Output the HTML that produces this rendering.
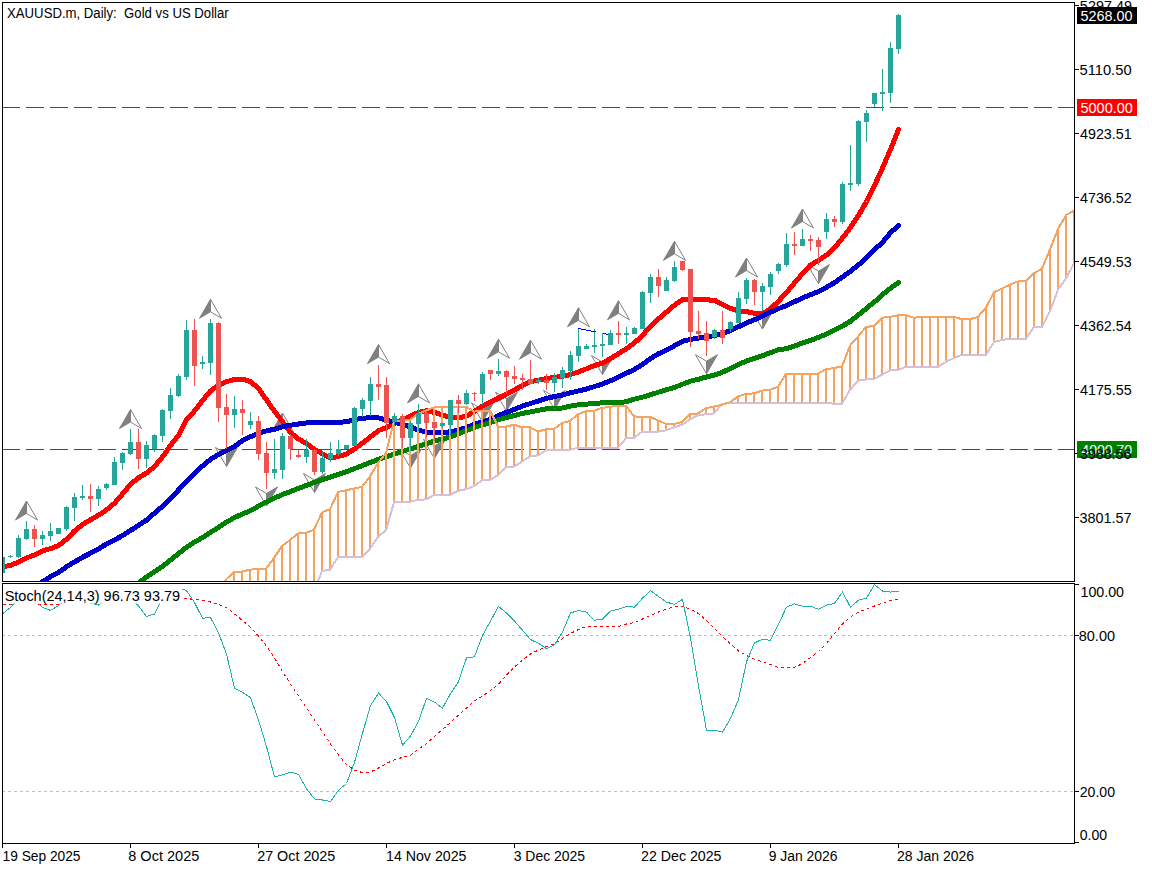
<!DOCTYPE html>
<html><head><meta charset="utf-8"><title>XAUUSD.m, Daily</title>
<style>html,body{margin:0;padding:0;background:#fff;width:1152px;height:870px;overflow:hidden}</style>
</head><body>
<svg width="1152" height="870" viewBox="0 0 1152 870" style="display:block">
<rect x="0" y="0" width="1152" height="870" fill="#ffffff"/>
<defs><clipPath id="cm"><rect x="3" y="3" width="1071" height="578"/></clipPath><clipPath id="cs"><rect x="3" y="584" width="1071" height="259"/></clipPath></defs>
<g clip-path="url(#cm)">
<line x1="2" y1="107.5" x2="1074" y2="107.5" stroke="#ff0000" stroke-width="1" stroke-dasharray="18,6"/>
<line x1="2" y1="449.5" x2="1074" y2="449.5" stroke="#008000" stroke-width="1" stroke-dasharray="18,6"/>
<g>
<polygon points="26.5,501 15.5,520 26.5,513.5" fill="#808080" stroke="#808080" stroke-width="1" stroke-linejoin="round"/><polyline points="26.5,513.5 26.5,501 37.5,520 26.5,513.5" fill="none" stroke="#808080" stroke-width="1"/>
<polygon points="130.5,409.5 119.5,428.5 130.5,422.0" fill="#808080" stroke="#808080" stroke-width="1" stroke-linejoin="round"/><polyline points="130.5,422.0 130.5,409.5 141.5,428.5 130.5,422.0" fill="none" stroke="#808080" stroke-width="1"/>
<polygon points="210.5,299.3 199.5,318.3 210.5,311.8" fill="#808080" stroke="#808080" stroke-width="1" stroke-linejoin="round"/><polyline points="210.5,311.8 210.5,299.3 221.5,318.3 210.5,311.8" fill="none" stroke="#808080" stroke-width="1"/>
<polygon points="282.5,413 271.5,432 282.5,425.5" fill="#808080" stroke="#808080" stroke-width="1" stroke-linejoin="round"/><polyline points="282.5,425.5 282.5,413 293.5,432 282.5,425.5" fill="none" stroke="#808080" stroke-width="1"/>
<polygon points="378.5,344.6 367.5,363.6 378.5,357.1" fill="#808080" stroke="#808080" stroke-width="1" stroke-linejoin="round"/><polyline points="378.5,357.1 378.5,344.6 389.5,363.6 378.5,357.1" fill="none" stroke="#808080" stroke-width="1"/>
<polygon points="418.5,383.9 407.5,402.9 418.5,396.4" fill="#808080" stroke="#808080" stroke-width="1" stroke-linejoin="round"/><polyline points="418.5,396.4 418.5,383.9 429.5,402.9 418.5,396.4" fill="none" stroke="#808080" stroke-width="1"/>
<polygon points="498.5,339.3 487.5,358.3 498.5,351.8" fill="#808080" stroke="#808080" stroke-width="1" stroke-linejoin="round"/><polyline points="498.5,351.8 498.5,339.3 509.5,358.3 498.5,351.8" fill="none" stroke="#808080" stroke-width="1"/>
<polygon points="530.5,340.2 519.5,359.2 530.5,352.7" fill="#808080" stroke="#808080" stroke-width="1" stroke-linejoin="round"/><polyline points="530.5,352.7 530.5,340.2 541.5,359.2 530.5,352.7" fill="none" stroke="#808080" stroke-width="1"/>
<polygon points="578.5,307.8 567.5,326.8 578.5,320.3" fill="#808080" stroke="#808080" stroke-width="1" stroke-linejoin="round"/><polyline points="578.5,320.3 578.5,307.8 589.5,326.8 578.5,320.3" fill="none" stroke="#808080" stroke-width="1"/>
<polygon points="618.5,300.8 607.5,319.8 618.5,313.3" fill="#808080" stroke="#808080" stroke-width="1" stroke-linejoin="round"/><polyline points="618.5,313.3 618.5,300.8 629.5,319.8 618.5,313.3" fill="none" stroke="#808080" stroke-width="1"/>
<polygon points="674.5,241.3 663.5,260.3 674.5,253.8" fill="#808080" stroke="#808080" stroke-width="1" stroke-linejoin="round"/><polyline points="674.5,253.8 674.5,241.3 685.5,260.3 674.5,253.8" fill="none" stroke="#808080" stroke-width="1"/>
<polygon points="746.5,258 735.5,277 746.5,270.5" fill="#808080" stroke="#808080" stroke-width="1" stroke-linejoin="round"/><polyline points="746.5,270.5 746.5,258 757.5,277 746.5,270.5" fill="none" stroke="#808080" stroke-width="1"/>
<polygon points="802.5,209 791.5,228 802.5,221.5" fill="#808080" stroke="#808080" stroke-width="1" stroke-linejoin="round"/><polyline points="802.5,221.5 802.5,209 813.5,228 802.5,221.5" fill="none" stroke="#808080" stroke-width="1"/>
<polygon points="226.5,466.5 237.5,447.5 226.5,454.0" fill="#808080" stroke="#808080" stroke-width="1" stroke-linejoin="round"/><polyline points="226.5,454.0 226.5,466.5 215.5,447.5 226.5,454.0" fill="none" stroke="#808080" stroke-width="1"/>
<polygon points="266.5,506 277.5,487 266.5,493.5" fill="#808080" stroke="#808080" stroke-width="1" stroke-linejoin="round"/><polyline points="266.5,493.5 266.5,506 255.5,487 266.5,493.5" fill="none" stroke="#808080" stroke-width="1"/>
<polygon points="314.5,492.5 325.5,473.5 314.5,480.0" fill="#808080" stroke="#808080" stroke-width="1" stroke-linejoin="round"/><polyline points="314.5,480.0 314.5,492.5 303.5,473.5 314.5,480.0" fill="none" stroke="#808080" stroke-width="1"/>
<polygon points="410.5,468 421.5,449 410.5,455.5" fill="#808080" stroke="#808080" stroke-width="1" stroke-linejoin="round"/><polyline points="410.5,455.5 410.5,468 399.5,449 410.5,455.5" fill="none" stroke="#808080" stroke-width="1"/>
<polygon points="434.5,458.5 445.5,439.5 434.5,446.0" fill="#808080" stroke="#808080" stroke-width="1" stroke-linejoin="round"/><polyline points="434.5,446.0 434.5,458.5 423.5,439.5 434.5,446.0" fill="none" stroke="#808080" stroke-width="1"/>
<polygon points="482.5,422 493.5,403 482.5,409.5" fill="#808080" stroke="#808080" stroke-width="1" stroke-linejoin="round"/><polyline points="482.5,409.5 482.5,422 471.5,403 482.5,409.5" fill="none" stroke="#808080" stroke-width="1"/>
<polygon points="506.5,411.2 517.5,392.2 506.5,398.7" fill="#808080" stroke="#808080" stroke-width="1" stroke-linejoin="round"/><polyline points="506.5,398.7 506.5,411.2 495.5,392.2 506.5,398.7" fill="none" stroke="#808080" stroke-width="1"/>
<polygon points="554.5,409.3 565.5,390.3 554.5,396.8" fill="#808080" stroke="#808080" stroke-width="1" stroke-linejoin="round"/><polyline points="554.5,396.8 554.5,409.3 543.5,390.3 554.5,396.8" fill="none" stroke="#808080" stroke-width="1"/>
<polygon points="602.5,374.6 613.5,355.6 602.5,362.1" fill="#808080" stroke="#808080" stroke-width="1" stroke-linejoin="round"/><polyline points="602.5,362.1 602.5,374.6 591.5,355.6 602.5,362.1" fill="none" stroke="#808080" stroke-width="1"/>
<polygon points="706.5,373.7 717.5,354.7 706.5,361.2" fill="#808080" stroke="#808080" stroke-width="1" stroke-linejoin="round"/><polyline points="706.5,361.2 706.5,373.7 695.5,354.7 706.5,361.2" fill="none" stroke="#808080" stroke-width="1"/>
<polygon points="762.5,329 773.5,310 762.5,316.5" fill="#808080" stroke="#808080" stroke-width="1" stroke-linejoin="round"/><polyline points="762.5,316.5 762.5,329 751.5,310 762.5,316.5" fill="none" stroke="#808080" stroke-width="1"/>
<polygon points="818.5,283.6 829.5,264.6 818.5,271.1" fill="#808080" stroke="#808080" stroke-width="1" stroke-linejoin="round"/><polyline points="818.5,271.1 818.5,283.6 807.5,264.6 818.5,271.1" fill="none" stroke="#808080" stroke-width="1"/>
</g>
<polyline points="2.5,566.7 10.5,565.5 18.5,562.0 26.5,557.9 34.5,555.0 42.5,550.9 50.5,548.6 58.5,545.6 66.5,539.2 74.5,531.0 82.5,524.5 90.5,519.8 98.5,515.2 106.5,509.9 114.5,503.2 122.5,493.9 130.5,484.3 138.5,477.8 146.5,473.0 154.5,466.6 162.5,456.9 170.5,445.6 178.5,435.2 186.5,419.9 194.5,411.0 202.5,400.6 210.5,390.9 218.5,385.3 226.5,381.7 234.5,379.4 242.5,379.2 250.5,381.5 258.5,388.4 266.5,399.9 274.5,411.4 282.5,421.7 290.5,432.6 298.5,439.0 306.5,443.6 314.5,449.3 322.5,453.9 330.5,458.0 338.5,456.5 346.5,454.1 354.5,448.9 362.5,443.1 370.5,436.9 378.5,430.6 386.5,427.5 394.5,423.3 402.5,419.7 410.5,416.0 418.5,412.4 426.5,410.8 434.5,412.4 442.5,415.0 450.5,417.6 458.5,418.1 466.5,416.0 474.5,411.4 482.5,406.1 490.5,402.0 498.5,398.3 506.5,394.2 514.5,390.0 522.5,385.3 530.5,381.7 538.5,380.1 546.5,378.5 554.5,377.3 562.5,376.4 570.5,374.5 578.5,371.9 586.5,368.8 594.5,365.6 602.5,363.1 610.5,358.7 618.5,353.6 626.5,348.6 634.5,342.9 642.5,335.3 650.5,326.4 658.5,318.8 666.5,312.0 674.5,305.2 682.5,299.5 690.5,299.5 698.5,299.2 706.5,299.9 714.5,300.2 722.5,304.6 730.5,308.4 738.5,310.9 746.5,311.5 754.5,313.4 762.5,314.0 770.5,308.8 778.5,301.2 786.5,292.6 794.5,283.0 802.5,273.5 810.5,265.0 818.5,260.5 826.5,255.0 834.5,248.0 842.5,238.0 850.5,227.5 858.5,215.5 866.5,201.5 874.5,185.5 882.5,168.0 890.5,149.5 898.5,129.5" fill="none" stroke="#ff0000" stroke-width="5" stroke-linecap="round" stroke-linejoin="round" shape-rendering="crispEdges"/>
<polyline points="26.5,594.0 34.5,588.0 42.5,581.8 50.5,576.6 58.5,572.6 66.5,566.7 74.5,562.0 82.5,557.3 90.5,553.2 98.5,549.1 106.5,543.9 114.5,540.0 122.5,535.6 130.5,530.5 138.5,525.3 146.5,520.2 154.5,513.1 162.5,506.4 170.5,498.8 178.5,490.0 186.5,481.5 194.5,473.6 202.5,466.0 210.5,459.3 218.5,454.5 226.5,450.5 234.5,446.4 242.5,440.7 250.5,436.7 258.5,433.2 266.5,430.9 274.5,429.2 282.5,426.9 290.5,425.2 298.5,424.0 306.5,422.9 314.5,422.3 322.5,422.3 330.5,422.3 338.5,422.3 346.5,421.8 354.5,419.7 362.5,418.1 370.5,417.9 378.5,417.9 386.5,420.2 394.5,422.3 402.5,424.4 410.5,427.0 418.5,430.1 426.5,432.2 434.5,432.7 442.5,433.0 450.5,431.7 458.5,430.1 466.5,427.5 474.5,424.4 482.5,421.8 490.5,419.2 498.5,415.5 506.5,412.4 514.5,409.3 522.5,406.1 530.5,403.5 538.5,400.9 546.5,398.3 554.5,396.5 562.5,395.0 570.5,392.8 578.5,390.9 586.5,389.0 594.5,386.5 602.5,384.0 610.5,380.8 618.5,377.0 626.5,373.2 634.5,369.4 642.5,364.4 650.5,358.5 658.5,353.8 666.5,350.2 674.5,345.7 682.5,341.3 690.5,339.4 698.5,338.1 706.5,336.8 714.5,335.6 722.5,333.7 730.5,330.5 738.5,326.7 746.5,322.9 754.5,319.8 762.5,316.0 770.5,312.2 778.5,308.6 786.5,305.5 794.5,301.7 802.5,297.9 810.5,294.7 818.5,291.4 826.5,287.4 834.5,282.6 842.5,277.0 850.5,271.3 858.5,264.9 866.5,257.6 874.5,249.6 882.5,242.4 890.5,232.7 898.5,225.5" fill="none" stroke="#0000cd" stroke-width="5" stroke-linecap="round" stroke-linejoin="round" shape-rendering="crispEdges"/>
<polyline points="130.5,590.0 141.4,580.7 146.5,577.0 154.5,571.5 162.5,566.5 170.5,560.1 178.5,553.7 186.5,547.2 194.5,542.1 202.5,537.6 210.5,532.4 218.5,527.3 226.5,522.1 234.5,517.6 242.5,514.0 250.5,510.6 258.5,506.2 266.5,501.9 274.5,498.0 282.5,494.5 290.5,491.5 298.5,488.4 306.5,485.4 314.5,482.3 322.5,479.7 330.5,477.1 338.5,474.4 346.5,471.8 354.5,468.6 362.5,465.5 370.5,462.4 378.5,459.3 386.5,456.7 394.5,453.8 402.5,451.5 410.5,448.9 418.5,446.3 426.5,443.6 434.5,441.0 442.5,439.0 450.5,436.9 458.5,433.8 466.5,430.6 474.5,427.5 482.5,424.9 490.5,422.3 498.5,419.7 506.5,417.6 514.5,415.5 522.5,413.4 530.5,411.9 538.5,410.3 546.5,408.8 554.5,408.5 562.5,408.0 570.5,406.1 578.5,404.8 586.5,404.2 594.5,403.3 602.5,402.9 610.5,402.9 618.5,402.7 626.5,401.7 634.5,399.1 642.5,397.2 650.5,394.7 658.5,392.2 666.5,389.7 674.5,387.4 682.5,384.2 690.5,381.1 698.5,379.2 706.5,377.0 714.5,375.0 722.5,372.2 730.5,368.4 738.5,364.6 746.5,360.9 754.5,358.3 762.5,355.8 770.5,352.6 778.5,349.8 786.5,348.6 794.5,346.2 802.5,342.9 810.5,340.5 818.5,337.3 826.5,334.1 834.5,330.1 842.5,326.0 850.5,321.2 858.5,314.8 866.5,308.3 874.5,301.9 882.5,294.7 890.5,288.2 898.5,282.6" fill="none" stroke="#008000" stroke-width="5" stroke-linecap="round" stroke-linejoin="round" shape-rendering="crispEdges"/>
<rect x="217" y="592.0" width="2" height="8.0" fill="#f4a460"/>
<rect x="225" y="579.5" width="2" height="20.5" fill="#f4a460"/>
<rect x="233" y="572.0" width="2" height="28.0" fill="#f4a460"/>
<rect x="241" y="571.5" width="2" height="28.5" fill="#f4a460"/>
<rect x="249" y="569.7" width="2" height="30.3" fill="#f4a460"/>
<rect x="257" y="568.8" width="2" height="31.2" fill="#f4a460"/>
<rect x="265" y="568.8" width="2" height="31.2" fill="#f4a460"/>
<rect x="273" y="558.0" width="2" height="42.0" fill="#f4a460"/>
<rect x="281" y="546.0" width="2" height="54.0" fill="#f4a460"/>
<rect x="289" y="540.0" width="2" height="60.0" fill="#f4a460"/>
<rect x="297" y="533.5" width="2" height="66.5" fill="#f4a460"/>
<rect x="305" y="533.0" width="2" height="67.0" fill="#f4a460"/>
<rect x="313" y="529.6" width="2" height="62.4" fill="#f4a460"/>
<rect x="321" y="512.5" width="2" height="58.5" fill="#f4a460"/>
<rect x="329" y="509.0" width="2" height="60.7" fill="#f4a460"/>
<rect x="337" y="492.0" width="2" height="65.2" fill="#f4a460"/>
<rect x="345" y="490.3" width="2" height="66.9" fill="#f4a460"/>
<rect x="353" y="488.5" width="2" height="68.7" fill="#f4a460"/>
<rect x="361" y="486.8" width="2" height="70.4" fill="#f4a460"/>
<rect x="369" y="476.3" width="2" height="72.5" fill="#f4a460"/>
<rect x="377" y="463.0" width="2" height="73.6" fill="#f4a460"/>
<rect x="385" y="453.0" width="2" height="77.4" fill="#f4a460"/>
<rect x="393" y="421.0" width="2" height="81.2" fill="#f4a460"/>
<rect x="401" y="420.3" width="2" height="81.4" fill="#f4a460"/>
<rect x="409" y="419.5" width="2" height="82.2" fill="#f4a460"/>
<rect x="417" y="414.0" width="2" height="85.8" fill="#f4a460"/>
<rect x="425" y="410.5" width="2" height="88.9" fill="#f4a460"/>
<rect x="433" y="407.5" width="2" height="87.5" fill="#f4a460"/>
<rect x="441" y="406.7" width="2" height="88.0" fill="#f4a460"/>
<rect x="449" y="406.7" width="2" height="88.0" fill="#f4a460"/>
<rect x="457" y="406.7" width="2" height="84.1" fill="#f4a460"/>
<rect x="465" y="406.7" width="2" height="82.5" fill="#f4a460"/>
<rect x="473" y="411.6" width="2" height="74.5" fill="#f4a460"/>
<rect x="481" y="410.7" width="2" height="69.6" fill="#f4a460"/>
<rect x="489" y="410.7" width="2" height="69.1" fill="#f4a460"/>
<rect x="497" y="426.5" width="2" height="48.7" fill="#f4a460"/>
<rect x="505" y="426.5" width="2" height="40.8" fill="#f4a460"/>
<rect x="513" y="424.7" width="2" height="41.9" fill="#f4a460"/>
<rect x="521" y="427.3" width="2" height="34.3" fill="#f4a460"/>
<rect x="529" y="427.3" width="2" height="29.1" fill="#f4a460"/>
<rect x="537" y="431.7" width="2" height="23.6" fill="#f4a460"/>
<rect x="545" y="429.1" width="2" height="21.1" fill="#f4a460"/>
<rect x="553" y="429.1" width="2" height="20.6" fill="#f4a460"/>
<rect x="561" y="423.0" width="2" height="26.9" fill="#f4a460"/>
<rect x="569" y="420.9" width="2" height="29.0" fill="#f4a460"/>
<rect x="577" y="414.3" width="2" height="33.3" fill="#f4a460"/>
<rect x="585" y="411.2" width="2" height="36.4" fill="#f4a460"/>
<rect x="593" y="410.8" width="2" height="36.8" fill="#f4a460"/>
<rect x="601" y="407.9" width="2" height="39.7" fill="#f4a460"/>
<rect x="609" y="406.8" width="2" height="40.8" fill="#f4a460"/>
<rect x="617" y="405.6" width="2" height="42.0" fill="#f4a460"/>
<rect x="625" y="405.6" width="2" height="32.7" fill="#f4a460"/>
<rect x="633" y="416.4" width="2" height="21.3" fill="#f4a460"/>
<rect x="641" y="416.9" width="2" height="14.8" fill="#f4a460"/>
<rect x="649" y="416.9" width="2" height="14.8" fill="#f4a460"/>
<rect x="657" y="420.4" width="2" height="11.3" fill="#f4a460"/>
<rect x="665" y="423.9" width="2" height="6.4" fill="#f4a460"/>
<rect x="673" y="423.9" width="2" height="3.4" fill="#f4a460"/>
<rect x="681" y="422.1" width="2" height="2.6" fill="#f4a460"/>
<rect x="689" y="414.3" width="2" height="5.2" fill="#f4a460"/>
<rect x="697" y="413.4" width="2" height="1.8" fill="#f4a460"/>
<rect x="705" y="408.2" width="2" height="6.1" fill="#f4a460"/>
<rect x="713" y="406.5" width="2" height="6.9" fill="#f4a460"/>
<rect x="721" y="403.9" width="2" height="0.9" fill="#d8bfd8"/>
<rect x="729" y="402.2" width="2" height="0.8" fill="#f4a460"/>
<rect x="737" y="396.5" width="2" height="6.3" fill="#f4a460"/>
<rect x="745" y="393.8" width="2" height="9.0" fill="#f4a460"/>
<rect x="753" y="393.4" width="2" height="9.4" fill="#f4a460"/>
<rect x="761" y="390.6" width="2" height="12.2" fill="#f4a460"/>
<rect x="769" y="389.9" width="2" height="12.9" fill="#f4a460"/>
<rect x="777" y="386.8" width="2" height="16.0" fill="#f4a460"/>
<rect x="785" y="373.8" width="2" height="29.0" fill="#f4a460"/>
<rect x="793" y="373.8" width="2" height="29.0" fill="#f4a460"/>
<rect x="801" y="373.8" width="2" height="29.0" fill="#f4a460"/>
<rect x="809" y="373.8" width="2" height="29.0" fill="#f4a460"/>
<rect x="817" y="373.8" width="2" height="29.0" fill="#f4a460"/>
<rect x="825" y="369.1" width="2" height="33.7" fill="#f4a460"/>
<rect x="833" y="368.1" width="2" height="35.7" fill="#f4a460"/>
<rect x="841" y="366.3" width="2" height="37.5" fill="#f4a460"/>
<rect x="849" y="345.5" width="2" height="44.4" fill="#f4a460"/>
<rect x="857" y="336.5" width="2" height="44.2" fill="#f4a460"/>
<rect x="865" y="326.9" width="2" height="52.6" fill="#f4a460"/>
<rect x="873" y="326.0" width="2" height="53.0" fill="#f4a460"/>
<rect x="881" y="317.7" width="2" height="57.0" fill="#f4a460"/>
<rect x="889" y="317.0" width="2" height="53.3" fill="#f4a460"/>
<rect x="897" y="315.3" width="2" height="54.7" fill="#f4a460"/>
<rect x="905" y="315.3" width="2" height="51.5" fill="#f4a460"/>
<rect x="913" y="317.7" width="2" height="49.1" fill="#f4a460"/>
<rect x="921" y="316.8" width="2" height="50.0" fill="#f4a460"/>
<rect x="929" y="316.8" width="2" height="50.0" fill="#f4a460"/>
<rect x="937" y="316.8" width="2" height="50.0" fill="#f4a460"/>
<rect x="945" y="316.8" width="2" height="45.0" fill="#f4a460"/>
<rect x="953" y="316.8" width="2" height="41.2" fill="#f4a460"/>
<rect x="961" y="319.3" width="2" height="35.4" fill="#f4a460"/>
<rect x="969" y="319.3" width="2" height="35.4" fill="#f4a460"/>
<rect x="977" y="316.8" width="2" height="37.9" fill="#f4a460"/>
<rect x="985" y="307.5" width="2" height="47.2" fill="#f4a460"/>
<rect x="993" y="292.3" width="2" height="49.8" fill="#f4a460"/>
<rect x="1001" y="288.5" width="2" height="51.5" fill="#f4a460"/>
<rect x="1009" y="284.7" width="2" height="53.9" fill="#f4a460"/>
<rect x="1017" y="281.4" width="2" height="57.2" fill="#f4a460"/>
<rect x="1025" y="280.9" width="2" height="57.7" fill="#f4a460"/>
<rect x="1033" y="273.3" width="2" height="53.6" fill="#f4a460"/>
<rect x="1041" y="268.8" width="2" height="58.1" fill="#f4a460"/>
<rect x="1049" y="249.3" width="2" height="62.0" fill="#f4a460"/>
<rect x="1057" y="229.1" width="2" height="60.7" fill="#f4a460"/>
<rect x="1065" y="215.2" width="2" height="63.2" fill="#f4a460"/>
<rect x="1073" y="210.6" width="2" height="52.6" fill="#f4a460"/>
<polyline points="314.0,592.0 322.0,571.0 330.0,569.7 338.0,557.2 346.0,557.2 354.0,557.2 362.0,557.2 370.0,548.8 378.0,536.6 386.0,530.4 394.0,502.2 402.0,501.7 410.0,501.7 418.0,499.8 426.0,499.4 434.0,495.0 442.0,494.7 450.0,494.7 458.0,490.8 466.0,489.2 474.0,486.1 482.0,480.3 490.0,479.8 498.0,475.2 506.0,467.3 514.0,466.6 522.0,461.6 530.0,456.4 538.0,455.3 546.0,450.2 554.0,449.7 562.0,449.9 570.0,449.9 578.0,447.6 586.0,447.6 594.0,447.6 602.0,447.6 610.0,447.6 618.0,447.6 626.0,438.3 634.0,437.7 642.0,431.7 650.0,431.7 658.0,431.7 666.0,430.3 674.0,427.3 682.0,424.7 690.0,419.5 698.0,415.2 706.0,414.3 714.0,413.4 722.0,403.9 730.0,403.0 738.0,402.8 746.0,402.8 754.0,402.8 762.0,402.8 770.0,402.8 778.0,402.8 786.0,402.8 794.0,402.8 802.0,402.8 810.0,402.8 818.0,402.8 826.0,402.8 834.0,403.8 842.0,403.8 850.0,389.9 858.0,380.7 866.0,379.5 874.0,379.0 882.0,374.7 890.0,370.3 898.0,370.0 906.0,366.8 914.0,366.8 922.0,366.8 930.0,366.8 938.0,366.8 946.0,361.8 954.0,358.0 962.0,354.7 970.0,354.7 978.0,354.7 986.0,354.7 994.0,342.1 1002.0,340.0 1010.0,338.6 1018.0,338.6 1026.0,338.6 1034.0,326.9 1042.0,326.9 1050.0,311.3 1058.0,289.8 1066.0,278.4 1074.0,263.2" fill="none" stroke="#d8bfd8" stroke-width="2" shape-rendering="crispEdges"/>
<polyline points="218.0,592.0 226.0,579.5 234.0,572.0 242.0,571.5 250.0,569.7 258.0,568.8 266.0,568.8 274.0,558.0 282.0,546.0 290.0,540.0 298.0,533.5 306.0,533.0 314.0,529.6 322.0,512.5 330.0,509.0 338.0,492.0 346.0,490.3 354.0,488.5 362.0,486.8 370.0,476.3 378.0,463.0 386.0,453.0 394.0,421.0 402.0,420.3 410.0,419.5 418.0,414.0 426.0,410.5 434.0,407.5 442.0,406.7 450.0,406.7 458.0,406.7 466.0,406.7 474.0,411.6 482.0,410.7 490.0,410.7 498.0,426.5 506.0,426.5 514.0,424.7 522.0,427.3 530.0,427.3 538.0,431.7 546.0,429.1 554.0,429.1 562.0,423.0 570.0,420.9 578.0,414.3 586.0,411.2 594.0,410.8 602.0,407.9 610.0,406.8 618.0,405.6 626.0,405.6 634.0,416.4 642.0,416.9 650.0,416.9 658.0,420.4 666.0,423.9 674.0,423.9 682.0,422.1 690.0,414.3 698.0,413.4 706.0,408.2 714.0,406.5 722.0,404.8 730.0,402.2 738.0,396.5 746.0,393.8 754.0,393.4 762.0,390.6 770.0,389.9 778.0,386.8 786.0,373.8 794.0,373.8 802.0,373.8 810.0,373.8 818.0,373.8 826.0,369.1 834.0,368.1 842.0,366.3 850.0,345.5 858.0,336.5 866.0,326.9 874.0,326.0 882.0,317.7 890.0,317.0 898.0,315.3 906.0,315.3 914.0,317.7 922.0,316.8 930.0,316.8 938.0,316.8 946.0,316.8 954.0,316.8 962.0,319.3 970.0,319.3 978.0,316.8 986.0,307.5 994.0,292.3 1002.0,288.5 1010.0,284.7 1018.0,281.4 1026.0,280.9 1034.0,273.3 1042.0,268.8 1050.0,249.3 1058.0,229.1 1066.0,215.2 1074.0,210.6" fill="none" stroke="#f4a460" stroke-width="2" shape-rendering="crispEdges"/>
<g shape-rendering="crispEdges">
<rect x="2" y="555" width="1" height="19" fill="#26a69a"/>
<rect x="0" y="557" width="5" height="16" fill="#26a69a"/>
<rect x="10" y="555" width="1" height="3" fill="#26a69a"/>
<rect x="8" y="556" width="5" height="1" fill="#26a69a"/>
<rect x="18" y="535" width="1" height="23" fill="#26a69a"/>
<rect x="16" y="538" width="5" height="19" fill="#26a69a"/>
<rect x="26" y="521" width="1" height="19" fill="#26a69a"/>
<rect x="24" y="529" width="5" height="10" fill="#26a69a"/>
<rect x="34" y="525" width="1" height="22" fill="#ef5350"/>
<rect x="32" y="529" width="5" height="10" fill="#ef5350"/>
<rect x="42" y="531" width="1" height="14" fill="#26a69a"/>
<rect x="40" y="535" width="5" height="4" fill="#26a69a"/>
<rect x="50" y="523" width="1" height="18" fill="#26a69a"/>
<rect x="48" y="531" width="5" height="5" fill="#26a69a"/>
<rect x="58" y="528" width="1" height="6" fill="#26a69a"/>
<rect x="56" y="528" width="5" height="6" fill="#26a69a"/>
<rect x="66" y="506" width="1" height="25" fill="#26a69a"/>
<rect x="64" y="507" width="5" height="22" fill="#26a69a"/>
<rect x="74" y="493" width="1" height="28" fill="#26a69a"/>
<rect x="72" y="497" width="5" height="11" fill="#26a69a"/>
<rect x="82" y="485" width="1" height="15" fill="#26a69a"/>
<rect x="80" y="496" width="5" height="2" fill="#26a69a"/>
<rect x="90" y="484" width="1" height="28" fill="#ef5350"/>
<rect x="88" y="496" width="5" height="3" fill="#ef5350"/>
<rect x="98" y="486" width="1" height="20" fill="#26a69a"/>
<rect x="96" y="489" width="5" height="10" fill="#26a69a"/>
<rect x="106" y="483" width="1" height="7" fill="#26a69a"/>
<rect x="104" y="484" width="5" height="4" fill="#26a69a"/>
<rect x="114" y="457" width="1" height="28" fill="#26a69a"/>
<rect x="112" y="462" width="5" height="23" fill="#26a69a"/>
<rect x="122" y="452" width="1" height="18" fill="#26a69a"/>
<rect x="120" y="453" width="5" height="10" fill="#26a69a"/>
<rect x="130" y="429" width="1" height="26" fill="#26a69a"/>
<rect x="128" y="442" width="5" height="12" fill="#26a69a"/>
<rect x="138" y="429" width="1" height="40" fill="#ef5350"/>
<rect x="136" y="442" width="5" height="17" fill="#ef5350"/>
<rect x="146" y="441" width="1" height="27" fill="#26a69a"/>
<rect x="144" y="445" width="5" height="14" fill="#26a69a"/>
<rect x="154" y="434" width="1" height="18" fill="#26a69a"/>
<rect x="152" y="435" width="5" height="14" fill="#26a69a"/>
<rect x="162" y="409" width="1" height="33" fill="#26a69a"/>
<rect x="160" y="410" width="5" height="26" fill="#26a69a"/>
<rect x="170" y="388" width="1" height="31" fill="#26a69a"/>
<rect x="168" y="395" width="5" height="16" fill="#26a69a"/>
<rect x="178" y="374" width="1" height="23" fill="#26a69a"/>
<rect x="176" y="376" width="5" height="20" fill="#26a69a"/>
<rect x="186" y="320" width="1" height="60" fill="#26a69a"/>
<rect x="184" y="330" width="5" height="47" fill="#26a69a"/>
<rect x="194" y="319" width="1" height="67" fill="#ef5350"/>
<rect x="192" y="330" width="5" height="36" fill="#ef5350"/>
<rect x="202" y="356" width="1" height="13" fill="#26a69a"/>
<rect x="200" y="362" width="5" height="2" fill="#26a69a"/>
<rect x="210" y="319" width="1" height="56" fill="#26a69a"/>
<rect x="208" y="323" width="5" height="40" fill="#26a69a"/>
<rect x="218" y="322" width="1" height="100" fill="#ef5350"/>
<rect x="216" y="323" width="5" height="85" fill="#ef5350"/>
<rect x="226" y="394" width="1" height="55" fill="#ef5350"/>
<rect x="224" y="407" width="5" height="8" fill="#ef5350"/>
<rect x="234" y="396" width="1" height="32" fill="#26a69a"/>
<rect x="232" y="409" width="5" height="6" fill="#26a69a"/>
<rect x="242" y="400" width="1" height="35" fill="#ef5350"/>
<rect x="240" y="409" width="5" height="4" fill="#ef5350"/>
<rect x="250" y="412" width="1" height="17" fill="#26a69a"/>
<rect x="248" y="421" width="5" height="4" fill="#26a69a"/>
<rect x="258" y="416" width="1" height="44" fill="#ef5350"/>
<rect x="256" y="421" width="5" height="33" fill="#ef5350"/>
<rect x="266" y="442" width="1" height="47" fill="#ef5350"/>
<rect x="264" y="453" width="5" height="20" fill="#ef5350"/>
<rect x="274" y="439" width="1" height="40" fill="#26a69a"/>
<rect x="272" y="469" width="5" height="4" fill="#26a69a"/>
<rect x="282" y="433" width="1" height="46" fill="#26a69a"/>
<rect x="280" y="436" width="5" height="34" fill="#26a69a"/>
<rect x="290" y="434" width="1" height="26" fill="#ef5350"/>
<rect x="288" y="436" width="5" height="13" fill="#ef5350"/>
<rect x="298" y="450" width="1" height="8" fill="#ef5350"/>
<rect x="296" y="455" width="5" height="2" fill="#ef5350"/>
<rect x="306" y="439" width="1" height="24" fill="#26a69a"/>
<rect x="304" y="450" width="5" height="7" fill="#26a69a"/>
<rect x="314" y="449" width="1" height="26" fill="#ef5350"/>
<rect x="312" y="450" width="5" height="22" fill="#ef5350"/>
<rect x="322" y="452" width="1" height="22" fill="#26a69a"/>
<rect x="320" y="458" width="5" height="14" fill="#26a69a"/>
<rect x="330" y="442" width="1" height="20" fill="#26a69a"/>
<rect x="328" y="453" width="5" height="6" fill="#26a69a"/>
<rect x="338" y="440" width="1" height="16" fill="#26a69a"/>
<rect x="336" y="449" width="5" height="5" fill="#26a69a"/>
<rect x="346" y="445" width="1" height="4" fill="#26a69a"/>
<rect x="344" y="445" width="5" height="4" fill="#26a69a"/>
<rect x="354" y="407" width="1" height="39" fill="#26a69a"/>
<rect x="352" y="408" width="5" height="38" fill="#26a69a"/>
<rect x="362" y="398" width="1" height="19" fill="#26a69a"/>
<rect x="360" y="400" width="5" height="9" fill="#26a69a"/>
<rect x="370" y="377" width="1" height="39" fill="#26a69a"/>
<rect x="368" y="384" width="5" height="17" fill="#26a69a"/>
<rect x="378" y="365" width="1" height="35" fill="#ef5350"/>
<rect x="376" y="384" width="5" height="3" fill="#ef5350"/>
<rect x="386" y="377" width="1" height="61" fill="#ef5350"/>
<rect x="384" y="385" width="5" height="38" fill="#ef5350"/>
<rect x="394" y="413" width="1" height="13" fill="#26a69a"/>
<rect x="392" y="416" width="5" height="6" fill="#26a69a"/>
<rect x="402" y="414" width="1" height="34" fill="#ef5350"/>
<rect x="400" y="416" width="5" height="22" fill="#ef5350"/>
<rect x="410" y="421" width="1" height="30" fill="#26a69a"/>
<rect x="408" y="423" width="5" height="15" fill="#26a69a"/>
<rect x="418" y="404" width="1" height="27" fill="#26a69a"/>
<rect x="416" y="413" width="5" height="11" fill="#26a69a"/>
<rect x="426" y="411" width="1" height="26" fill="#ef5350"/>
<rect x="424" y="413" width="5" height="10" fill="#ef5350"/>
<rect x="434" y="422" width="1" height="19" fill="#ef5350"/>
<rect x="432" y="422" width="5" height="6" fill="#ef5350"/>
<rect x="442" y="423" width="1" height="5" fill="#26a69a"/>
<rect x="440" y="423" width="5" height="3" fill="#26a69a"/>
<rect x="450" y="400" width="1" height="36" fill="#26a69a"/>
<rect x="448" y="400" width="5" height="25" fill="#26a69a"/>
<rect x="458" y="395" width="1" height="18" fill="#ef5350"/>
<rect x="456" y="400" width="5" height="4" fill="#ef5350"/>
<rect x="466" y="390" width="1" height="15" fill="#26a69a"/>
<rect x="464" y="393" width="5" height="11" fill="#26a69a"/>
<rect x="474" y="392" width="1" height="9" fill="#ef5350"/>
<rect x="472" y="393" width="5" height="1" fill="#ef5350"/>
<rect x="482" y="372" width="1" height="33" fill="#26a69a"/>
<rect x="480" y="374" width="5" height="20" fill="#26a69a"/>
<rect x="490" y="370" width="1" height="10" fill="#ef5350"/>
<rect x="488" y="370" width="5" height="4" fill="#ef5350"/>
<rect x="498" y="359" width="1" height="17" fill="#26a69a"/>
<rect x="496" y="371" width="5" height="3" fill="#26a69a"/>
<rect x="506" y="370" width="1" height="24" fill="#ef5350"/>
<rect x="504" y="371" width="5" height="6" fill="#ef5350"/>
<rect x="514" y="366" width="1" height="18" fill="#ef5350"/>
<rect x="512" y="376" width="5" height="3" fill="#ef5350"/>
<rect x="522" y="374" width="1" height="16" fill="#ef5350"/>
<rect x="520" y="378" width="5" height="2" fill="#ef5350"/>
<rect x="530" y="360" width="1" height="24" fill="#ef5350"/>
<rect x="528" y="379" width="5" height="5" fill="#ef5350"/>
<rect x="538" y="378" width="1" height="6" fill="#26a69a"/>
<rect x="536" y="380" width="5" height="2" fill="#26a69a"/>
<rect x="546" y="374" width="1" height="16" fill="#ef5350"/>
<rect x="544" y="380" width="5" height="3" fill="#ef5350"/>
<rect x="554" y="373" width="1" height="19" fill="#26a69a"/>
<rect x="552" y="377" width="5" height="6" fill="#26a69a"/>
<rect x="562" y="367" width="1" height="21" fill="#26a69a"/>
<rect x="560" y="370" width="5" height="8" fill="#26a69a"/>
<rect x="570" y="351" width="1" height="29" fill="#26a69a"/>
<rect x="568" y="355" width="5" height="16" fill="#26a69a"/>
<rect x="578" y="328" width="1" height="34" fill="#26a69a"/>
<rect x="576" y="346" width="5" height="10" fill="#26a69a"/>
<rect x="586" y="344" width="1" height="5" fill="#26a69a"/>
<rect x="584" y="346" width="5" height="3" fill="#26a69a"/>
<rect x="594" y="329" width="1" height="24" fill="#26a69a"/>
<rect x="592" y="345" width="5" height="2" fill="#26a69a"/>
<rect x="602" y="333" width="1" height="24" fill="#26a69a"/>
<rect x="600" y="344" width="5" height="2" fill="#26a69a"/>
<rect x="610" y="330" width="1" height="15" fill="#26a69a"/>
<rect x="608" y="333" width="5" height="12" fill="#26a69a"/>
<rect x="618" y="321" width="1" height="23" fill="#ef5350"/>
<rect x="616" y="333" width="5" height="2" fill="#ef5350"/>
<rect x="626" y="327" width="1" height="17" fill="#26a69a"/>
<rect x="624" y="333" width="5" height="2" fill="#26a69a"/>
<rect x="634" y="327" width="1" height="7" fill="#26a69a"/>
<rect x="632" y="328" width="5" height="6" fill="#26a69a"/>
<rect x="642" y="291" width="1" height="38" fill="#26a69a"/>
<rect x="640" y="292" width="5" height="37" fill="#26a69a"/>
<rect x="650" y="274" width="1" height="29" fill="#26a69a"/>
<rect x="648" y="277" width="5" height="16" fill="#26a69a"/>
<rect x="658" y="269" width="1" height="28" fill="#ef5350"/>
<rect x="656" y="277" width="5" height="9" fill="#ef5350"/>
<rect x="666" y="277" width="1" height="14" fill="#26a69a"/>
<rect x="664" y="280" width="5" height="11" fill="#26a69a"/>
<rect x="674" y="261" width="1" height="21" fill="#26a69a"/>
<rect x="672" y="267" width="5" height="14" fill="#26a69a"/>
<rect x="682" y="261" width="1" height="10" fill="#ef5350"/>
<rect x="680" y="261" width="5" height="9" fill="#ef5350"/>
<rect x="690" y="269" width="1" height="78" fill="#ef5350"/>
<rect x="688" y="269" width="5" height="63" fill="#ef5350"/>
<rect x="698" y="311" width="1" height="28" fill="#ef5350"/>
<rect x="696" y="331" width="5" height="3" fill="#ef5350"/>
<rect x="706" y="321" width="1" height="35" fill="#ef5350"/>
<rect x="704" y="333" width="5" height="8" fill="#ef5350"/>
<rect x="714" y="329" width="1" height="10" fill="#26a69a"/>
<rect x="712" y="330" width="5" height="7" fill="#26a69a"/>
<rect x="722" y="311" width="1" height="33" fill="#ef5350"/>
<rect x="720" y="330" width="5" height="8" fill="#ef5350"/>
<rect x="730" y="321" width="1" height="11" fill="#26a69a"/>
<rect x="728" y="322" width="5" height="7" fill="#26a69a"/>
<rect x="738" y="292" width="1" height="31" fill="#26a69a"/>
<rect x="736" y="298" width="5" height="25" fill="#26a69a"/>
<rect x="746" y="278" width="1" height="26" fill="#26a69a"/>
<rect x="744" y="280" width="5" height="19" fill="#26a69a"/>
<rect x="754" y="279" width="1" height="26" fill="#ef5350"/>
<rect x="752" y="280" width="5" height="12" fill="#ef5350"/>
<rect x="762" y="283" width="1" height="28" fill="#26a69a"/>
<rect x="760" y="286" width="5" height="6" fill="#26a69a"/>
<rect x="770" y="272" width="1" height="23" fill="#26a69a"/>
<rect x="768" y="274" width="5" height="13" fill="#26a69a"/>
<rect x="778" y="263" width="1" height="11" fill="#26a69a"/>
<rect x="776" y="264" width="5" height="7" fill="#26a69a"/>
<rect x="786" y="233" width="1" height="34" fill="#26a69a"/>
<rect x="784" y="244" width="5" height="21" fill="#26a69a"/>
<rect x="794" y="232" width="1" height="23" fill="#ef5350"/>
<rect x="792" y="244" width="5" height="2" fill="#ef5350"/>
<rect x="802" y="229" width="1" height="17" fill="#26a69a"/>
<rect x="800" y="239" width="5" height="7" fill="#26a69a"/>
<rect x="810" y="235" width="1" height="16" fill="#ef5350"/>
<rect x="808" y="239" width="5" height="2" fill="#ef5350"/>
<rect x="818" y="237" width="1" height="28" fill="#ef5350"/>
<rect x="816" y="240" width="5" height="7" fill="#ef5350"/>
<rect x="826" y="213" width="1" height="26" fill="#26a69a"/>
<rect x="824" y="219" width="5" height="13" fill="#26a69a"/>
<rect x="834" y="216" width="1" height="11" fill="#ef5350"/>
<rect x="832" y="219" width="5" height="3" fill="#ef5350"/>
<rect x="842" y="182" width="1" height="42" fill="#26a69a"/>
<rect x="840" y="184" width="5" height="38" fill="#26a69a"/>
<rect x="850" y="145" width="1" height="46" fill="#26a69a"/>
<rect x="848" y="183" width="5" height="2" fill="#26a69a"/>
<rect x="858" y="120" width="1" height="66" fill="#26a69a"/>
<rect x="856" y="121" width="5" height="63" fill="#26a69a"/>
<rect x="866" y="110" width="1" height="32" fill="#26a69a"/>
<rect x="864" y="113" width="5" height="9" fill="#26a69a"/>
<rect x="874" y="93" width="1" height="14" fill="#26a69a"/>
<rect x="872" y="93" width="5" height="11" fill="#26a69a"/>
<rect x="882" y="69" width="1" height="42" fill="#26a69a"/>
<rect x="880" y="92" width="5" height="2" fill="#26a69a"/>
<rect x="890" y="42" width="1" height="61" fill="#26a69a"/>
<rect x="888" y="48" width="5" height="45" fill="#26a69a"/>
<rect x="898" y="14" width="1" height="40" fill="#26a69a"/>
<rect x="896" y="15" width="5" height="34" fill="#26a69a"/>
</g>
<polyline points="578.5,328.5 595.5,332" fill="none" stroke="#0000ff" stroke-width="1" shape-rendering="crispEdges"/>
<polyline points="602.5,333.5 604.5,333.5 608,334.5" fill="none" stroke="#0000ff" stroke-width="1" shape-rendering="crispEdges"/>
</g>
<text x="7.06" y="18" font-family="'Liberation Sans', 'DejaVu Sans', sans-serif" font-size="14" fill="#000" textLength="221.68" lengthAdjust="spacingAndGlyphs">XAUUSD.m, Daily:&#160; Gold vs US Dollar</text>
<g clip-path="url(#cs)">
<g shape-rendering="crispEdges">
<line x1="2" y1="635.5" x2="1074" y2="635.5" stroke="#c0c0c0" stroke-width="1" stroke-dasharray="3,3"/>
<line x1="2" y1="791.5" x2="1074" y2="791.5" stroke="#c0c0c0" stroke-width="1" stroke-dasharray="3,3"/>
</g>
<polyline points="2.5,604.3 13.5,604.3 17.5,598.0 33.5,598.0 37.5,604.3 60.5,604.3 64.5,598.0 178.5,597.0 186.5,598.5 194.5,599.5 202.5,600.5 210.5,602.0 218.5,604.5 226.5,607.7 234.5,614.0 242.5,620.5 250.5,627.5 258.5,636.0 266.5,646.0 274.5,658.0 282.5,671.5 290.5,684.0 298.5,696.0 306.5,708.0 314.5,720.0 322.5,732.0 330.5,744.0 338.5,755.0 346.5,764.5 354.5,770.0 362.5,772.7 370.5,772.0 378.5,768.0 386.5,763.5 394.5,759.6 402.5,757.5 410.5,755.2 418.5,749.0 426.5,743.5 434.5,736.5 442.5,729.5 450.5,722.5 458.5,715.0 466.5,708.0 474.5,701.0 482.5,696.0 490.5,690.5 498.5,684.2 506.5,675.0 514.5,667.0 522.5,660.0 530.5,654.0 538.5,650.0 546.5,646.5 554.5,643.8 562.5,638.5 570.5,633.5 578.5,629.5 586.5,626.5 594.5,626.5 602.5,626.5 610.5,626.5 618.5,626.5 626.5,624.0 634.5,622.5 642.5,619.0 650.5,615.5 658.5,612.0 666.5,609.0 674.5,606.8 682.5,606.5 690.5,609.0 698.5,613.5 706.5,620.5 714.5,628.5 722.5,636.5 730.5,644.0 738.5,651.0 746.5,655.5 754.5,659.2 762.5,661.8 770.5,664.5 778.5,667.4 786.5,667.4 794.5,667.4 802.5,663.5 810.5,657.5 818.5,651.5 826.5,643.5 834.5,633.5 842.5,624.0 850.5,617.0 858.5,612.0 866.5,609.0 874.5,606.0 882.5,603.0 890.5,600.5 898.5,598.9" fill="none" stroke="#ff0000" stroke-width="1" stroke-dasharray="3,3" shape-rendering="crispEdges"/>
<polyline points="2.5,613.7 10.5,607.5 18.5,598.0 26.5,596.0 34.5,600.0 42.5,607.4 50.5,610.4 58.5,605.5 66.5,598.0 74.5,596.0 82.5,598.0 90.5,603.0 98.5,605.0 106.5,600.0 114.5,595.0 122.5,595.0 130.5,598.0 138.5,606.0 146.5,616.6 154.5,614.0 162.5,598.0 170.5,590.0 178.5,588.0 186.5,590.6 194.5,602.5 202.5,618.3 210.5,617.5 218.5,632.9 226.5,654.0 234.5,688.4 242.5,692.3 250.5,697.6 258.5,720.0 266.5,746.5 274.5,776.9 282.5,774.8 290.5,772.2 298.5,774.3 306.5,788.8 314.5,798.9 322.5,800.0 330.5,801.5 338.5,790.2 346.5,783.5 354.5,762.4 362.5,733.3 370.5,705.6 378.5,693.1 386.5,701.6 394.5,717.5 402.5,745.2 410.5,736.0 418.5,721.4 426.5,698.4 434.5,702.1 442.5,708.2 450.5,693.7 458.5,681.8 466.5,658.0 474.5,656.7 482.5,635.5 490.5,621.0 498.5,606.4 506.5,613.0 514.5,621.0 522.5,630.2 530.5,639.5 538.5,643.4 546.5,648.7 554.5,644.8 562.5,632.0 570.5,613.0 578.5,610.4 586.5,612.2 594.5,620.2 602.5,619.1 610.5,611.2 618.5,609.1 626.5,606.4 634.5,607.2 642.5,598.1 650.5,590.6 658.5,596.4 666.5,602.2 674.5,604.4 682.5,599.4 690.5,637.9 698.5,685.7 706.5,730.3 714.5,730.3 722.5,732.1 730.5,718.5 738.5,699.6 746.5,661.8 754.5,642.9 762.5,639.2 770.5,640.4 778.5,624.1 786.5,607.2 794.5,603.9 802.5,606.2 810.5,606.2 818.5,609.2 826.5,605.2 834.5,603.4 842.5,592.1 850.5,607.2 858.5,600.1 866.5,598.1 874.5,584.5 882.5,591.1 890.5,592.1 898.5,591.3" fill="none" stroke="#20b2aa" stroke-width="1" shape-rendering="crispEdges"/>
<rect x="3" y="584" width="179" height="19.6" fill="#ffffff"/>
<text x="4.67" y="601" font-family="'Liberation Sans', 'DejaVu Sans', sans-serif" font-size="14" fill="#000" textLength="175.44" lengthAdjust="spacingAndGlyphs">Stoch(24,14,3) 96.73 93.79</text>
</g>
<g shape-rendering="crispEdges" fill="none" stroke="#000" stroke-width="1">
<rect x="2.5" y="2.5" width="1072" height="579"/>
<rect x="2.5" y="583.5" width="1072" height="260"/>
<line x1="1074" y1="5.5" x2="1079" y2="5.5"/>
<line x1="1074" y1="69.5" x2="1079" y2="69.5"/>
<line x1="1074" y1="133.5" x2="1079" y2="133.5"/>
<line x1="1074" y1="197.5" x2="1079" y2="197.5"/>
<line x1="1074" y1="261.5" x2="1079" y2="261.5"/>
<line x1="1074" y1="325.5" x2="1079" y2="325.5"/>
<line x1="1074" y1="389.5" x2="1079" y2="389.5"/>
<line x1="1074" y1="453.5" x2="1079" y2="453.5"/>
<line x1="1074" y1="517.5" x2="1079" y2="517.5"/>
<line x1="1074" y1="584.5" x2="1079" y2="584.5"/>
<line x1="1074" y1="635.5" x2="1079" y2="635.5"/>
<line x1="1074" y1="791.5" x2="1079" y2="791.5"/>
<line x1="1074" y1="842.5" x2="1079" y2="842.5"/>
<line x1="2.5" y1="843" x2="2.5" y2="848"/>
<line x1="130.5" y1="843" x2="130.5" y2="848"/>
<line x1="258.5" y1="843" x2="258.5" y2="848"/>
<line x1="386.5" y1="843" x2="386.5" y2="848"/>
<line x1="514.5" y1="843" x2="514.5" y2="848"/>
<line x1="642.5" y1="843" x2="642.5" y2="848"/>
<line x1="770.5" y1="843" x2="770.5" y2="848"/>
<line x1="898.5" y1="843" x2="898.5" y2="848"/>
</g>
<text x="1079.87" y="11" font-family="'Liberation Sans', 'DejaVu Sans', sans-serif" font-size="14" fill="#000" textLength="52.16" lengthAdjust="spacingAndGlyphs">5297.49</text>
<text x="1079.45" y="75" font-family="'Liberation Sans', 'DejaVu Sans', sans-serif" font-size="14" fill="#000" textLength="52.16" lengthAdjust="spacingAndGlyphs">5110.50</text>
<text x="1080.00" y="139" font-family="'Liberation Sans', 'DejaVu Sans', sans-serif" font-size="14" fill="#000" textLength="51.62" lengthAdjust="spacingAndGlyphs">4923.51</text>
<text x="1080.00" y="203" font-family="'Liberation Sans', 'DejaVu Sans', sans-serif" font-size="14" fill="#000" textLength="51.62" lengthAdjust="spacingAndGlyphs">4736.52</text>
<text x="1080.00" y="267" font-family="'Liberation Sans', 'DejaVu Sans', sans-serif" font-size="14" fill="#000" textLength="51.62" lengthAdjust="spacingAndGlyphs">4549.53</text>
<text x="1080.00" y="331" font-family="'Liberation Sans', 'DejaVu Sans', sans-serif" font-size="14" fill="#000" textLength="51.62" lengthAdjust="spacingAndGlyphs">4362.54</text>
<text x="1080.00" y="395" font-family="'Liberation Sans', 'DejaVu Sans', sans-serif" font-size="14" fill="#000" textLength="51.72" lengthAdjust="spacingAndGlyphs">4175.55</text>
<text x="1079.47" y="523" font-family="'Liberation Sans', 'DejaVu Sans', sans-serif" font-size="14" fill="#000" textLength="52.16" lengthAdjust="spacingAndGlyphs">3801.57</text>
<rect x="1077" y="7" width="60" height="17" fill="#000"/>
<text x="1080.57" y="21" font-family="'Liberation Sans', 'DejaVu Sans', sans-serif" font-size="14" fill="#fff" textLength="52.06" lengthAdjust="spacingAndGlyphs">5268.00</text>
<rect x="1077" y="99" width="60" height="17" fill="#ff0000"/>
<text x="1080.46" y="113" font-family="'Liberation Sans', 'DejaVu Sans', sans-serif" font-size="14" fill="#fff" textLength="52.47" lengthAdjust="spacingAndGlyphs">5000.00</text>
<rect x="1077" y="441" width="60" height="17" fill="#008000"/>
<text x="1081.30" y="455" font-family="'Liberation Sans', 'DejaVu Sans', sans-serif" font-size="14" fill="#fff" textLength="50.91" lengthAdjust="spacingAndGlyphs">4000.70</text>
<text x="1079.99" y="459" font-family="'Liberation Sans', 'DejaVu Sans', sans-serif" font-size="14" fill="#000" textLength="51.33" lengthAdjust="spacingAndGlyphs">3988.56</text>
<text x="1080.48" y="597" font-family="'Liberation Sans', 'DejaVu Sans', sans-serif" font-size="14" fill="#000" textLength="43.56" lengthAdjust="spacingAndGlyphs">100.00</text>
<text x="1078.76" y="641" font-family="'Liberation Sans', 'DejaVu Sans', sans-serif" font-size="14" fill="#000" textLength="36.28" lengthAdjust="spacingAndGlyphs">80.00</text>
<text x="1079.79" y="797" font-family="'Liberation Sans', 'DejaVu Sans', sans-serif" font-size="14" fill="#000" textLength="35.25" lengthAdjust="spacingAndGlyphs">20.00</text>
<text x="1079.80" y="840" font-family="'Liberation Sans', 'DejaVu Sans', sans-serif" font-size="14" fill="#000" textLength="27.35" lengthAdjust="spacingAndGlyphs">0.00</text>
<text x="2.52" y="861" font-family="'Liberation Sans', 'DejaVu Sans', sans-serif" font-size="14" fill="#000" textLength="77.98" lengthAdjust="spacingAndGlyphs">19 Sep 2025</text>
<text x="128.26" y="861" font-family="'Liberation Sans', 'DejaVu Sans', sans-serif" font-size="14" fill="#000" textLength="71.06" lengthAdjust="spacingAndGlyphs">8 Oct 2025</text>
<text x="257.18" y="861" font-family="'Liberation Sans', 'DejaVu Sans', sans-serif" font-size="14" fill="#000" textLength="78.11" lengthAdjust="spacingAndGlyphs">27 Oct 2025</text>
<text x="386.09" y="861" font-family="'Liberation Sans', 'DejaVu Sans', sans-serif" font-size="14" fill="#000" textLength="80.32" lengthAdjust="spacingAndGlyphs">14 Nov 2025</text>
<text x="513.70" y="861" font-family="'Liberation Sans', 'DejaVu Sans', sans-serif" font-size="14" fill="#000" textLength="71.40" lengthAdjust="spacingAndGlyphs">3 Dec 2025</text>
<text x="641.09" y="861" font-family="'Liberation Sans', 'DejaVu Sans', sans-serif" font-size="14" fill="#000" textLength="80.42" lengthAdjust="spacingAndGlyphs">22 Dec 2025</text>
<text x="768.71" y="861" font-family="'Liberation Sans', 'DejaVu Sans', sans-serif" font-size="14" fill="#000" textLength="68.79" lengthAdjust="spacingAndGlyphs">9 Jan 2026</text>
<text x="897.00" y="861" font-family="'Liberation Sans', 'DejaVu Sans', sans-serif" font-size="14" fill="#000" textLength="77.08" lengthAdjust="spacingAndGlyphs">28 Jan 2026</text>
</svg>
</body></html>
